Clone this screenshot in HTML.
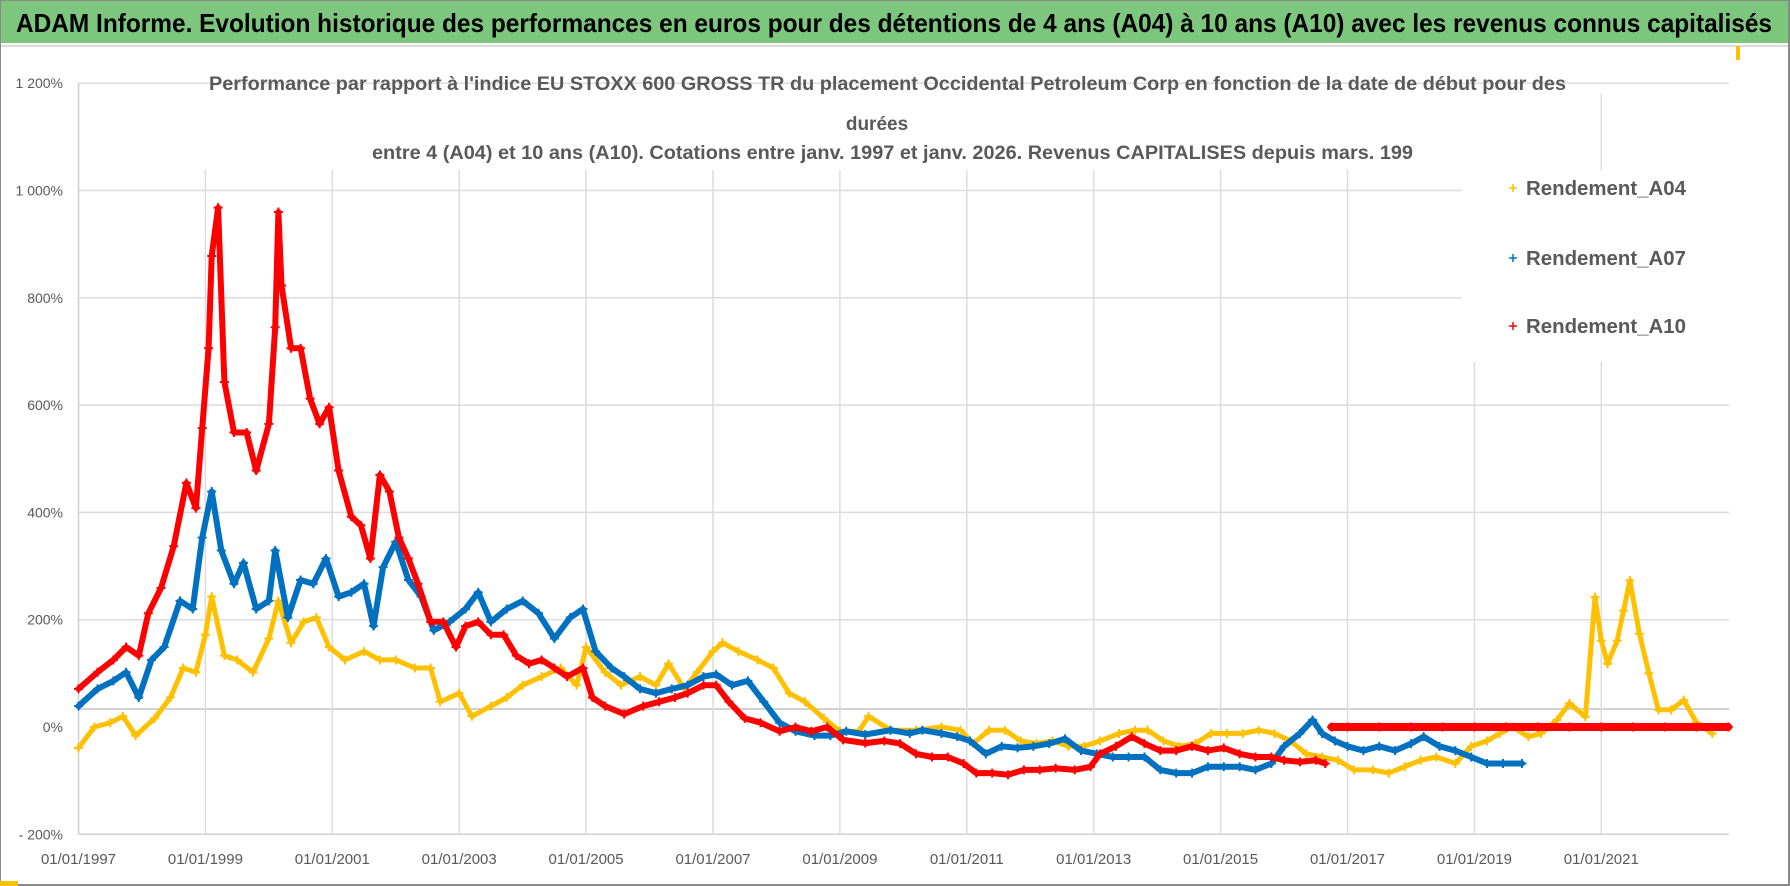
<!DOCTYPE html>
<html><head><meta charset="utf-8"><style>
html,body{margin:0;padding:0;background:#fff;}
svg{display:block;font-family:"Liberation Sans",sans-serif;}
</style></head><body>
<svg id="chart" width="1790" height="886" viewBox="0 0 1790 886" xmlns="http://www.w3.org/2000/svg">
<rect x="0" y="0" width="1790" height="886" fill="#fff"/>
<rect x="0" y="0" width="1790" height="43" fill="#7DC67D"/>
<line x1="0" y1="46" x2="1790" y2="46" stroke="#d0d0d0" stroke-width="1.5"/>
<text x="16" y="32" font-size="26" font-weight="bold" fill="#000" textLength="1756" lengthAdjust="spacingAndGlyphs">ADAM Informe. Evolution historique des performances en euros pour des détentions de 4 ans (A04) à 10 ans (A10) avec les revenus connus capitalisés</text>
<rect x="0" y="0" width="1789" height="885" fill="none" stroke="#8a8a8a" stroke-width="2"/>
<rect x="0" y="881" width="18" height="5" fill="#FFC000"/>
<rect x="1736" y="46" width="4" height="14" fill="#FFC000"/>
<g id="grid"></g>
<g id="axes"></g>
<rect x="1462" y="170" width="268" height="192" fill="#fff"/>
<g id="series"></g>
<g font-weight="bold" fill="#595959" font-size="19">
<text x="209" y="90" textLength="1357" lengthAdjust="spacingAndGlyphs">Performance par rapport à l'indice EU STOXX 600 GROSS TR  du placement Occidental Petroleum Corp en fonction de la date de début pour des</text>
<text x="877" y="130" text-anchor="middle">durées</text>
<text x="372" y="159" textLength="1041" lengthAdjust="spacingAndGlyphs">entre 4 (A04) et 10 ans (A10). Cotations entre janv. 1997 et janv. 2026. Revenus CAPITALISES depuis mars. 199</text>
</g>
<g id="legend"></g>
</svg>
<script>
const yTicks=[1200,1000,800,600,400,200,0,-200];
const yTickLabels=["1 200%","1 000%","800%","600%","400%","200%","0%","- 200%"];
const xTicks=[1997,1999,2001,2003,2005,2007,2009,2011,2013,2015,2017,2019,2021];
const xTickLabels=["01/01/1997","01/01/1999","01/01/2001","01/01/2003","01/01/2005","01/01/2007","01/01/2009","01/01/2011","01/01/2013","01/01/2015","01/01/2017","01/01/2019","01/01/2021"];
const seriesNames=["Rendement_A04","Rendement_A07","Rendement_A10"];
const a04Years=[1997.0,1997.25,1997.5,1997.7,1997.9,1998.2,1998.45,1998.65,1998.85,1999.0,1999.1,1999.3,1999.5,1999.75,2000.0,2000.15,2000.35,2000.55,2000.75,2000.95,2001.2,2001.5,2001.75,2002.0,2002.3,2002.55,2002.7,2003.0,2003.2,2003.5,2003.75,2004.0,2004.3,2004.6,2004.85,2005.0,2005.3,2005.55,2005.85,2006.1,2006.3,2006.55,2006.75,2007.0,2007.15,2007.4,2007.7,2007.95,2008.2,2008.45,2008.75,2009.0,2009.3,2009.45,2009.8,2010.2,2010.6,2010.9,2011.1,2011.35,2011.6,2011.85,2012.1,2012.35,2012.6,2012.85,2013.1,2013.4,2013.65,2013.85,2014.1,2014.35,2014.6,2014.85,2015.1,2015.35,2015.6,2015.85,2016.1,2016.35,2016.6,2016.85,2017.1,2017.4,2017.65,2017.9,2018.15,2018.4,2018.7,2018.95,2019.2,2019.4,2019.6,2019.85,2020.05,2020.3,2020.5,2020.75,2020.9,2021.0,2021.1,2021.25,2021.35,2021.45,2021.6,2021.75,2021.9,2022.1,2022.3,2022.5,2022.75];
const a04Values=[-39,0,8,20,-16,16,55,110,102,172,243,133,125,102,165,235,157,196,204,149,125,141,125,125,110,110,47,63,20,39,55,78,94,110,78,149,102,78,94,78,118,71,102,141,157,141,125,110,63,47,16,-8,-8,20,-6,-6,0,-6,-31,-6,-6,-26,-31,-26,-36,-36,-26,-12,-6,-6,-26,-36,-31,-12,-12,-12,-6,-12,-26,-50,-56,-62,-80,-80,-86,-74,-62,-56,-68,-36,-26,-12,0,-18,-12,13,44,19,242,161,118,161,217,273,174,100,32,32,50,8,-12];
const a07Years=[1997.0,1997.3,1997.55,1997.75,1997.95,1998.15,1998.35,1998.6,1998.8,1998.95,1999.1,1999.25,1999.45,1999.6,1999.8,2000.0,2000.1,2000.3,2000.5,2000.7,2000.9,2001.1,2001.3,2001.5,2001.65,2001.8,2002.0,2002.2,2002.4,2002.6,2002.85,2003.1,2003.3,2003.5,2003.75,2004.0,2004.25,2004.5,2004.75,2004.95,2005.15,2005.4,2005.6,2005.85,2006.1,2006.35,2006.6,2006.85,2007.05,2007.3,2007.55,2007.8,2008.05,2008.3,2008.6,2008.85,2009.1,2009.4,2009.8,2010.1,2010.3,2010.6,2010.85,2011.05,2011.3,2011.55,2011.8,2012.05,2012.3,2012.55,2012.8,2013.05,2013.3,2013.55,2013.8,2014.05,2014.3,2014.55,2014.8,2015.05,2015.3,2015.55,2015.8,2016.0,2016.25,2016.45,2016.6,2016.8,2017.0,2017.25,2017.5,2017.75,2018.0,2018.2,2018.45,2018.7,2018.95,2019.2,2019.45,2019.75];
const a07Values=[39,71,86,102,55,125,149,235,220,353,439,329,267,306,220,235,329,204,274,267,314,243,251,267,188,298,345,274,243,180,196,220,251,196,220,235,212,165,204,220,141,110,94,71,63,71,78,94,98,78,86,47,8,-8,-16,-16,-8,-14,-6,-12,-6,-12,-18,-26,-50,-36,-39,-36,-31,-22,-44,-50,-56,-56,-56,-80,-86,-86,-74,-74,-74,-80,-68,-36,-12,13,-12,-26,-36,-44,-36,-44,-31,-18,-36,-44,-56,-68,-68,-68];
const a10Years=[1997.0,1997.3,1997.55,1997.75,1997.95,1998.1,1998.3,1998.5,1998.7,1998.85,1998.95,1999.05,1999.1,1999.2,1999.3,1999.45,1999.65,1999.8,2000.0,2000.1,2000.15,2000.2,2000.35,2000.5,2000.65,2000.8,2000.95,2001.1,2001.3,2001.45,2001.6,2001.75,2001.9,2002.05,2002.2,2002.35,2002.55,2002.75,2002.95,2003.1,2003.3,2003.5,2003.7,2003.9,2004.1,2004.3,2004.5,2004.7,2004.95,2005.1,2005.3,2005.6,2005.9,2006.15,2006.4,2006.6,2006.85,2007.05,2007.25,2007.5,2007.75,2008.05,2008.3,2008.55,2008.8,2009.05,2009.4,2009.7,2009.95,2010.2,2010.45,2010.7,2010.95,2011.15,2011.4,2011.65,2011.9,2012.15,2012.4,2012.7,2012.95,2013.1,2013.35,2013.6,2013.8,2014.05,2014.3,2014.55,2014.8,2015.05,2015.3,2015.55,2015.8,2016.0,2016.25,2016.5,2016.65];
const a10Values=[71,102,125,149,133,212,259,337,455,408,557,706,878,968,643,549,549,478,565,745,960,823,706,706,612,565,596,478,392,376,314,470,439,353,314,267,196,196,149,188,196,172,172,133,118,125,110,94,110,55,39,24,39,47,55,63,78,78,47,16,8,-8,0,-8,0,-24,-30,-26,-31,-50,-56,-56,-68,-86,-86,-89,-80,-80,-77,-80,-74,-50,-36,-18,-31,-44,-44,-36,-44,-39,-50,-56,-56,-62,-65,-62,-68];
const a10FlatYears=[2016.75,2017.0,2017.5,2018.0,2018.5,2019.0,2019.5,2020.0,2020.5,2021.0,2021.5,2022.0,2022.5,2023.0];
const a10FlatValues=[0,0,0,0,0,0,0,0,0,0,0,0,0,0];

const NS="http://www.w3.org/2000/svg";
const X0=78.5, PXY=63.45, Y0=727, PXV=107.3/200;
function xScale(year){return X0+(year-1997)*PXY;}
function yScale(v){return Y0-v*PXV;}
function mk(tag,attrs,parent){const e=document.createElementNS(NS,tag);for(const k in attrs)e.setAttribute(k,attrs[k]);parent.appendChild(e);return e;}
const grid=document.getElementById('grid'),axes=document.getElementById('axes'),series=document.getElementById('series'),legend=document.getElementById('legend');
const plotRight=1729, plotTop=yScale(1200), plotBottom=yScale(-200);
yTicks.forEach((t,i)=>{
  const y=yScale(t);
  if(t===0) return;
  const l=mk('line',{x1:X0,x2:plotRight,y1:y,y2:y,stroke:t===-200?'#d0d0d0':'#dcdcdc','stroke-width':1.5},grid);
  
  
  const tx=mk('text',{x:63,y:y+5,'text-anchor':'end','font-size':14,fill:'#595959'},axes);
  tx.textContent=yTickLabels[i];
  
  
});
{
  const tx=mk('text',{x:63,y:yScale(0)+5,'text-anchor':'end','font-size':14,fill:'#595959'},axes);
  tx.textContent=yTickLabels[6];
  
  
}
{
  const l=mk('line',{x1:X0,x2:plotRight,y1:709,y2:709,stroke:'#c4c4c4','stroke-width':1.5},grid);
  
  
}
xTicks.forEach((t,i)=>{
  const x=xScale(t);
  const l=mk('line',{x1:x,x2:x,y1:i===0?plotTop:170,y2:plotBottom,stroke:i===0?'#d0d0d0':'#dcdcdc','stroke-width':1.5},grid);
  
  
  const tx=mk('text',{x:x,y:864,'text-anchor':'middle','font-size':15,fill:'#595959'},axes);
  tx.textContent=xTickLabels[i];
  
  
});
{
  const l=mk('line',{x1:xScale(2021),x2:xScale(2021),y1:94,y2:170,stroke:'#dcdcdc','stroke-width':1.5},grid);
  
  
}
function drawSeries(years,vals,color,name,w,ms){
  const g=mk('g',{},series);
  
  
  const pts=years.map((yr,i)=>xScale(yr).toFixed(1)+','+yScale(vals[i]).toFixed(1)).join(' ');
  const pl=mk('polyline',{points:pts,fill:'none',stroke:color,'stroke-width':w,'stroke-linejoin':'round','stroke-linecap':'round'},g);
  
  
  years.forEach((yr,i)=>{
    const x=xScale(yr),y=yScale(vals[i]);
    const p=mk('path',{d:`M${x-ms} ${y}H${x+ms}M${x} ${y-ms}V${y+ms}`,stroke:color,'stroke-width':2},g);
    
    
  });
}
drawSeries(a04Years,a04Values,'#FFC000','series-a04',5,4.5);
drawSeries(a07Years,a07Values,'#0070C0','series-a07',6,4.5);
drawSeries(a10Years,a10Values,'#FF0000','series-a10',6,4.5);
drawSeries(a10FlatYears,a10FlatValues,'#FF0000','series-a10-flat',8,4.5);
const legColors=['#FFC000','#0070C0','#FF0000'], legY=[188,258,326];
seriesNames.forEach((n,i)=>{
  const g=mk('g',{},legend);
  
  
  mk('path',{d:`M1509 ${legY[i]}H1517M1513 ${legY[i]-4}V${legY[i]+4}`,stroke:legColors[i],'stroke-width':1.5},g);
  const tx=mk('text',{x:1526,y:legY[i]+7,'font-size':20,'font-weight':'bold',fill:'#595959',textLength:160,lengthAdjust:'spacingAndGlyphs'},g);
  tx.textContent=n;
  
  
});
</script>
</body></html>
